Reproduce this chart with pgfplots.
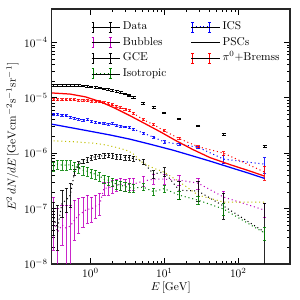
\documentclass[border=0pt]{standalone}
\usepackage{pgfplots}
\pgfplotsset{compat=1.18}
\usepackage{pgfplotstable}
\definecolor{mmag}{rgb}{0.75,0,0.75}
\definecolor{mgreen}{rgb}{0,0.5,0}
\definecolor{myel}{rgb}{0.75,0.75,0}
\definecolor{mred}{rgb}{1,0,0}
\definecolor{mblue}{rgb}{0,0,1}

\tikzset{mydots/.style={dash pattern=on 0.9pt off 2.5pt, line width=0.9pt}}

\newcommand{\errleg}[2]{%
 \ifnum#2=1 \draw[#1,mydots] (2.6pt,0pt) -- (13pt,0pt);\fi
 \draw[#1,solid,line width=0.7pt] (0pt,-4.4pt) -- (0pt,4.4pt) (-1.3pt,-4.4pt) -- (1.3pt,-4.4pt) (-1.3pt,4.4pt) -- (1.3pt,4.4pt) (15pt,-4.4pt) -- (15pt,4.4pt) (13.7pt,-4.4pt) -- (16.3pt,-4.4pt) (13.7pt,4.4pt) -- (16.3pt,4.4pt);
 \path (-1.3pt,0pt) -- (24pt,0pt);}

\pgfplotstableread{
E v e
0.317 1.680e-5 5.0e-7
0.361 1.680e-5 5.0e-7
0.412 1.680e-5 5.0e-7
0.470 1.680e-5 5.0e-7
0.535 1.680e-5 5.0e-7
0.610 1.680e-5 5.0e-7
0.696 1.659e-5 5.0e-7
0.793 1.638e-5 4.9e-7
0.904 1.611e-5 4.8e-7
1.031 1.578e-5 4.7e-7
1.175 1.546e-5 4.6e-7
1.340 1.502e-5 4.5e-7
1.527 1.453e-5 4.4e-7
1.741 1.405e-5 4.2e-7
1.985 1.354e-5 4.1e-7
2.263 1.299e-5 3.9e-7
2.580 1.241e-5 3.7e-7
2.941 1.176e-5 3.5e-7
3.353 1.109e-5 3.3e-7
3.822 1.021e-5 3.1e-7
5.16 7.86e-6 2.4e-7
7.16 6.66e-6 2.0e-7
9.93 5.32e-6 1.6e-7
15.8 4.18e-6 1.3e-7
28.6 3.07e-6 9.0e-8
63.4 2.17e-6 7.0e-8
227 1.31e-6 5.0e-8
}\tdata

\pgfplotstableread{
E v ep em
0.317 6.74e-8 6.4e-8 3.5e-8
0.361 4.45e-8 7.1e-8 2.66e-8
0.412 1.256e-7 8.9e-8 5.5e-8
0.470 1.423e-7 9.2e-8 5.6e-8
0.535 1.75e-7 1.13e-7 6.9e-8
0.610 4.55e-7 6.0e-8 5.0e-8
0.696 6.34e-7 7.0e-8 7.0e-8
0.793 7.18e-7 7.0e-8 7.0e-8
0.904 7.48e-7 7.5e-8 7.5e-8
1.031 8.30e-7 8.0e-8 8.0e-8
1.175 8.65e-7 8.5e-8 8.5e-8
1.340 8.83e-7 8.5e-8 8.5e-8
1.527 9.02e-7 9.0e-8 9.0e-8
1.741 9.20e-7 9.0e-8 9.0e-8
1.985 9.02e-7 9.0e-8 9.0e-8
2.263 8.65e-7 8.5e-8 8.5e-8
2.580 8.47e-7 8.5e-8 8.5e-8
2.941 8.37e-7 8.5e-8 8.5e-8
3.353 8.30e-7 8.5e-8 8.5e-8
3.822 8.03e-7 8.0e-8 8.0e-8
5.16 6.97e-7 8.0e-8 8.0e-8
7.16 4.18e-7 6.7e-8 6.7e-8
9.93 4.64e-7 8.3e-8 8.3e-8
15.8 2.15e-7 9.8e-8 6.7e-8
28.6 2.07e-7 1.06e-7 7.0e-8
63.4 1.109e-7 7.9e-8 4.6e-8
227 3.77e-8 8.8e-8 3.3e-8
}\tgce

\pgfplotstableread{
E v ep em
0.317 5.71e-8 1.04e-7 3.92e-8
0.361 3.77e-8 6.4e-8 3.3e-8
0.412 5.04e-8 6.5e-8 2.84e-8
0.470 4.45e-8 7.1e-8 4.0e-8
0.535 4.84e-8 6.7e-8 4.4e-8
0.610 6.21e-8 8.0e-8 3.5e-8
0.696 7.64e-8 7.8e-8 4.0e-8
0.793 8.65e-8 7.5e-8 4.0e-8
0.904 9.79e-8 7.7e-8 4.3e-8
1.031 9.79e-8 6.3e-8 4.1e-8
1.175 1.109e-7 6.4e-8 4.4e-8
1.340 1.205e-7 7.0e-8 4.4e-8
1.527 2.34e-7 6.6e-8 5.9e-8
1.741 2.34e-7 6.6e-8 5.9e-8
1.985 2.54e-7 7.2e-8 6.4e-8
2.263 2.65e-7 7.5e-8 5.8e-8
2.580 2.76e-7 7.9e-8 6.1e-8
2.941 2.65e-7 7.5e-8 5.8e-8
3.353 2.76e-7 7.9e-8 6.1e-8
3.822 2.76e-7 7.9e-8 6.1e-8
5.16 3.13e-7 7.2e-8 5.9e-8
7.16 3.40e-7 7.8e-8 6.4e-8
9.93 3.40e-7 7.8e-8 6.4e-8
15.8 3.26e-7 7.5e-8 6.1e-8
28.6 2.88e-7 6.7e-8 6.3e-8
63.4 1.612e-7 4.6e-8 3.6e-8
227 9.40e-8 3.2e-8 2.4e-8
}\tbub

\pgfplotstableread{
E v e
0.317 5.83e-7 1.1e-7
0.361 6.34e-7 1.2e-7
0.412 6.08e-7 1.2e-7
0.470 6.08e-7 1.2e-7
0.535 6.20e-7 1.1e-7
0.610 5.83e-7 1.1e-7
0.696 5.37e-7 1.0e-7
0.793 4.94e-7 9.0e-8
0.904 4.74e-7 9.0e-8
1.031 4.36e-7 8.0e-8
1.175 4.18e-7 8.0e-8
1.340 3.85e-7 7.0e-8
1.527 3.40e-7 6.0e-8
1.741 3.26e-7 6.0e-8
1.985 3.00e-7 5.0e-8
2.263 2.76e-7 5.0e-8
2.580 2.65e-7 5.0e-8
2.941 2.49e-7 4.5e-8
3.353 2.40e-7 4.0e-8
3.822 2.34e-7 4.0e-8
5.16 2.44e-7 3.5e-8
7.16 2.02e-7 3.0e-8
9.93 2.29e-7 3.5e-8
15.8 1.75e-7 3.0e-8
28.6 1.42e-7 2.5e-8
63.4 9.79e-8 2.4e-8
227 3.62e-8 9.0e-9
}\tiso

\pgfplotstableread{
E v e
0.317 5.04e-6 2.0e-7
0.361 5.04e-6 2.0e-7
0.412 4.84e-6 1.9e-7
0.470 4.78e-6 1.9e-7
0.535 4.51e-6 1.8e-7
0.610 4.27e-6 1.7e-7
0.696 4.10e-6 1.6e-7
0.793 3.93e-6 1.6e-7
0.904 4.01e-6 1.6e-7
1.031 3.69e-6 1.5e-7
1.175 3.66e-6 1.5e-7
1.340 3.52e-6 1.4e-7
1.527 3.43e-6 1.4e-7
1.741 3.33e-6 1.3e-7
1.985 3.40e-6 1.4e-7
2.263 3.13e-6 1.3e-7
2.580 3.10e-6 1.2e-7
2.941 2.98e-6 1.2e-7
3.353 2.90e-6 1.2e-7
3.822 2.71e-6 1.1e-7
5.16 2.32e-6 1.0e-7
7.16 1.94e-6 9.0e-8
9.93 1.60e-6 8.0e-8
15.8 1.45e-6 7.0e-8
28.6 1.28e-6 7.0e-8
63.4 7.80e-7 1.3e-7
227 6.34e-7 2.0e-7
}\tics

\pgfplotstableread{
E v e
0.317 9.28e-6 3.7e-7
0.361 9.28e-6 3.7e-7
0.412 9.28e-6 3.7e-7
0.470 9.28e-6 3.7e-7
0.535 9.24e-6 3.7e-7
0.610 9.20e-6 3.7e-7
0.696 9.13e-6 3.6e-7
0.793 9.02e-6 3.6e-7
0.904 8.90e-6 3.6e-7
1.031 8.76e-6 3.5e-7
1.175 8.65e-6 3.5e-7
1.340 8.47e-6 3.4e-7
1.527 8.19e-6 3.3e-7
1.741 7.96e-6 3.2e-7
1.985 7.48e-6 3.0e-7
2.263 7.03e-6 2.8e-7
2.580 6.60e-6 2.6e-7
2.941 6.21e-6 2.5e-7
3.353 5.83e-6 2.3e-7
3.822 5.26e-6 2.1e-7
5.16 4.05e-6 1.6e-7
7.16 3.26e-6 1.3e-7
9.93 2.54e-6 1.0e-7
15.8 1.84e-6 8.0e-8
28.6 1.31e-6 6.0e-8
63.4 1.00e-6 7.0e-8
227 4.55e-7 1.3e-7
}\tpi

\pgfplotstableread{
E v
0.317 1.666e-6
0.361 1.659e-6
0.412 1.645e-6
0.470 1.632e-6
0.535 1.618e-6
0.610 1.605e-6
0.696 1.585e-6
0.793 1.565e-6
0.904 1.546e-6
1.031 1.527e-6
1.175 1.496e-6
1.340 1.465e-6
1.527 1.423e-6
1.741 1.376e-6
1.985 1.320e-6
2.263 1.267e-6
2.580 1.210e-6
2.941 1.147e-6
3.353 1.073e-6
3.822 9.60e-7
5.16 6.60e-7
7.16 5.37e-7
9.93 4.55e-7
15.8 3.07e-7
28.6 1.75e-7
63.4 1.31e-7
227 1.31e-7
}\tpsc

\pgfplotstableread{
E v
0.303 1.221e-5
0.531 1.166e-5
0.847 1.042e-5
1.352 8.54e-6
2.158 6.47e-6
3.44 4.74e-6
5.50 3.40e-6
8.77 2.44e-6
13.97 1.715e-6
24.5 1.157e-6
41.6 8.30e-7
77.6 6.21e-7
144.6 4.74e-7
227 3.85e-7
}\tredline

\pgfplotstableread{
E v
0.303 3.33e-6
0.531 2.905e-6
0.989 2.49e-6
1.846 2.13e-6
3.44 1.788e-6
6.41 1.453e-6
13.1 1.133e-6
22.3 9.20e-7
41.6 7.18e-7
77.6 5.53e-7
144.6 4.27e-7
227 3.50e-7
}\tblueline

\pgfplotsset{
 errplot/.style={mark=none, mydots,
   error bars/y dir=both, error bars/y explicit,
   error bars/error bar style={solid, line width=0.7pt, opacity=0.85},
   error bars/error mark options={solid, rotate=90, line width=0.7pt, mark size=1.4pt, opacity=0.85}},
}

\begin{document}
\begin{tikzpicture}
\begin{axis}[
 scale only axis, width=209pt, height=223.7pt,
 xmode=log, ymode=log,
 xmin=0.3, xmax=500, ymin=1e-8, ymax=4e-4,
 xtick={1,10,100}, ytick={1e-8,1e-7,1e-6,1e-5,1e-4},
 tick pos=both, tick align=inside,
 major tick length=5pt, minor tick length=2.6pt,
 every tick/.style={black, line width=0.6pt},
 axis line style={line width=1.1pt, black!85},
 xlabel={$E\,[\mathrm{GeV}]$},
 ylabel={$E^2\,dN/dE\,[\mathrm{GeV cm^{-2}s^{-1}sr^{-1}}]$},
 xlabel style={yshift=3pt},
 ylabel style={yshift=-2pt},
 legend columns=2,
 legend cell align=left,
 legend style={draw=none, fill=none, at={(0.15,0.97)}, anchor=north west,
   row sep=0pt,
   nodes={inner ysep=2pt, inner xsep=2pt, text height=7.2pt, text depth=2.5pt},
   /tikz/every even column/.append style={column sep=19.5pt}},
]
\addplot[black, mark=none, draw=none, forget plot,
   error bars/y dir=both, error bars/y explicit,
   error bars/error bar style={solid, line width=0.7pt},
   error bars/error mark options={solid, rotate=90, line width=0.9pt, mark size=1.8pt}]
   table[x=E, y=v, y error=e] {\tdata};
\addlegendimage{legend image code/.code={\errleg{black}{0}}}
\addlegendentry{Data}
\addplot[forget plot, mblue, errplot] table[x=E, y=v, y error=e] {\tics};
\addlegendimage{legend image code/.code={\errleg{mblue}{1}}}
\addlegendentry{ICS}
\addplot[forget plot, mmag, errplot] table[x=E, y=v, y error plus=ep, y error minus=em] {\tbub};
\addlegendimage{legend image code/.code={\errleg{mmag}{1}}}
\addlegendentry{Bubbles}
\addplot[forget plot, myel, mark=none, mydots] table[x=E, y=v] {\tpsc};
\addlegendimage{legend image code/.code={\draw[myel,mydots] (0pt,0pt) -- (16pt,0pt); \path (-1.3pt,0pt) -- (24pt,0pt);}}
\addlegendentry{PSCs}
\addplot[forget plot, black, errplot] table[x=E, y=v, y error plus=ep, y error minus=em] {\tgce};
\addlegendimage{legend image code/.code={\errleg{black}{1}}}
\addlegendentry{GCE}
\addplot[forget plot, mred, errplot] table[x=E, y=v, y error=e] {\tpi};
\addlegendimage{legend image code/.code={\errleg{mred}{1}}}
\addlegendentry{$\pi^0$+Bremss}
\addplot[forget plot, mgreen, errplot] table[x=E, y=v, y error=e] {\tiso};
\addlegendimage{legend image code/.code={\errleg{mgreen}{1}}}
\addlegendentry{Isotropic}
\addplot[forget plot, mred, line width=1.1pt, mark=none] table[x=E, y=v] {\tredline};
\addplot[forget plot, mblue, line width=1.1pt, mark=none] table[x=E, y=v] {\tblueline};
\end{axis}
\pgfresetboundingbox
\path ([shift={(-45.4pt,-31.6pt)}]current axis.south west) rectangle ([shift={(8.8pt,7.9pt)}]current axis.north east);
\end{tikzpicture}
\end{document}
